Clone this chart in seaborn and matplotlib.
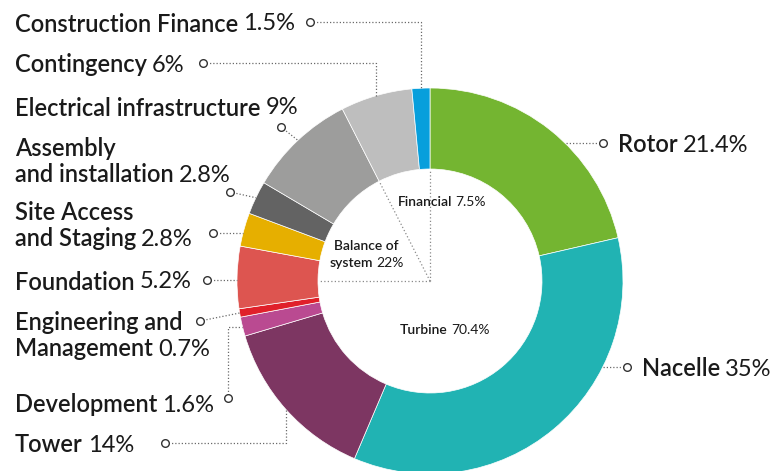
import matplotlib
matplotlib.use("Agg")
import matplotlib.pyplot as plt
import seaborn as sns
import numpy as np

# ---------------- data ----------------
categories = ["Rotor", "Nacelle", "Tower", "Development", "Engineering and\nManagement",
              "Foundation", "Site Access\nand Staging", "Assembly\nand installation",
              "Electrical infrastructure", "Contingency", "Construction Finance"]
values = [21.4, 35, 14, 1.6, 0.7, 5.2, 2.8, 2.8, 9, 6, 1.5]
value_labels = ["21.4%", "35%", "14%", "1.6%", "0.7%", "5.2%", "2.8%", "2.8%", "9%", "6%", "1.5%"]
colors = ["#74B531", "#21B3B3", "#7D3662", "#BA4A91", "#E0202A", "#DD5550",
          "#E6AF00", "#636363", "#9D9D9C", "#BEBEBE", "#079FDC"]
groups = ["Turbine", "Balance of\nsystem", "Financial"]
group_labels = ["70.4%", "22%", "7.5%"]

# ---------------- layout ----------------
W, H = 783, 471
CX, CY = 430, 281        # donut centre (pixels, y down)
R_OUT, R_IN = 193, 112

sns.set_theme(style="white")
plt.rcParams['font.family'] = ['Lato', 'DejaVu Sans']
TXT = "#1a1a1a"
LINE = "#6a6a6a"

fig = plt.figure(figsize=(W / 100, H / 100), dpi=100)
ax = fig.add_axes([0, 0, 1, 1])

pal = sns.color_palette(colors)
ax.pie(values, colors=pal, startangle=90, counterclock=False, radius=R_OUT,
       center=(CX, H - CY),
       wedgeprops=dict(width=R_OUT - R_IN, edgecolor="white", linewidth=0.5))
ax.set_xlim(0, W)
ax.set_ylim(0, H)
ax.set_aspect("equal")
ax.axis("off")


def P(x, y):
    return x, H - y


def polar(theta, rho):
    t = np.deg2rad(theta)
    return CX + rho * np.sin(t), CY - rho * np.cos(t)


# mid angles (clockwise from top)
cum = np.cumsum([0] + values)
mids = [(cum[i] + cum[i + 1]) / 2 / cum[-1] * 360 for i in range(len(values))]

# label layout: text x, line-centre ys, marker pos, route
label_layout = {
    "Rotor": (618, [143], (603, 143), "h"),
    "Nacelle": (642, [367], (627, 367), "h"),
    "Tower": (15, [443], (165, 443), "hv"),
    "Development": (15, [403], (228, 398), "vh"),
    "Engineering and\nManagement": (15, [320, 347], (200, 321), "d"),
    "Foundation": (15, [280], (207, 280), "h"),
    "Site Access\nand Staging": (15, [211, 237], (213, 233), "h"),
    "Assembly\nand installation": (15, [147, 173], (230, 192), "d"),
    "Electrical infrastructure": (15, [106], (281, 127), "d"),
    "Contingency": (15, [63], (203, 63), "hv"),
    "Construction Finance": (15, [22], (310, 22), "hv"),
}

FS = 17
renderer = fig.canvas.get_renderer()

for i, cat in enumerate(categories):
    tx, ys, (mx, my), route = label_layout[cat]
    ax_, ay_ = polar(mids[i], R_OUT)
    if route == "h":
        dy = my - CY
        ex = CX + np.sign(mx - CX) * np.sqrt(R_OUT ** 2 - dy ** 2)
        pts = [(mx, my), (ex, my)]
    elif route == "hv":
        pts = [(mx, my), (ax_, my), (ax_, ay_)]
    elif route == "vh":
        pts = [(mx, my), (mx, ay_), (ax_, ay_)]
    else:
        pts = [(mx, my), (ax_, ay_)]
    xs = [p[0] for p in pts]
    yy = [H - p[1] for p in pts]
    ax.plot(xs, yy, color=LINE, lw=0.9, ls=(0, (1, 1.6)), zorder=3)
    ax.plot([mx], [H - my], marker="o", ms=5.5, mfc="white", mec="#333333", mew=1.0, zorder=4)

    lines = cat.split("\n")
    for j, (ln, yv) in enumerate(zip(lines, ys)):
        t = ax.text(*P(tx, yv), ln, fontsize=FS, fontweight="semibold", color=TXT,
                    ha="left", va="center_baseline")
        if j == len(lines) - 1:
            bb = t.get_window_extent(renderer=renderer)
            ax.text(bb.x1 + 5, H - yv, value_labels[i], fontsize=FS, color=TXT,
                    ha="left", va="center_baseline")

# inner dividers (group boundaries)
divider_angles = [0, 270, 333]
for a in divider_angles:
    x1, y1 = polar(a, R_IN)
    ax.plot([CX, x1], [H - CY, H - y1], color="#8a8a8a", lw=0.9, ls=(0, (1, 1.8)), zorder=3)

# group labels
SFS = 10
group_layout = {
    "Financial": (398, [201]),
    "Balance of\nsystem": (330, [245, 262]),
    "Turbine": (400, [329]),
}
for g, gl in zip(groups, group_labels):
    gx, gys = group_layout[g]
    lines = g.split("\n")
    for j, (ln, yv) in enumerate(zip(lines, gys)):
        off = 4 if (len(lines) > 1 and j == 0) else 0
        t = ax.text(*P(gx + off, yv), ln, fontsize=SFS, fontweight="semibold", color=TXT,
                    ha="left", va="center_baseline")
        if j == len(lines) - 1:
            bb = t.get_window_extent(renderer=renderer)
            ax.text(bb.x1 + 3, H - yv, gl, fontsize=SFS, color=TXT,
                    ha="left", va="center_baseline")

fig.savefig("out.png", dpi=100, facecolor="white")
